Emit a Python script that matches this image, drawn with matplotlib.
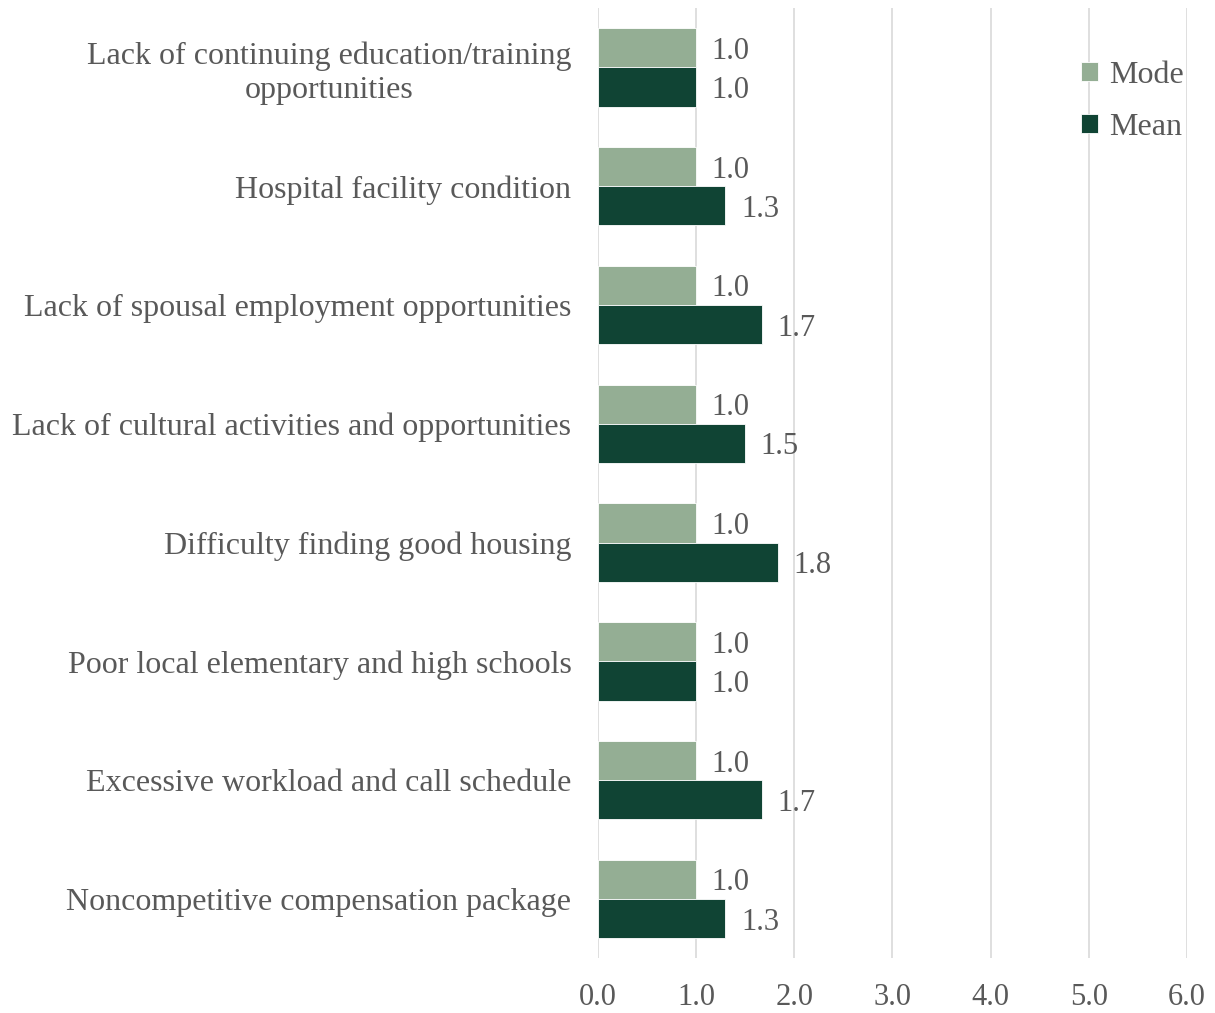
import matplotlib.pyplot as plt
import numpy as np

categories = [
    "Lack of continuing education/training\nopportunities",
    "Hospital facility condition",
    "Lack of spousal employment opportunities",
    "Lack of cultural activities and opportunities",
    "Difficulty finding good housing",
    "Poor local elementary and high schools",
    "Excessive workload and call schedule",
    "Noncompetitive compensation package",
]
mode_vals = [1.0, 1.0, 1.0, 1.0, 1.0, 1.0, 1.0, 1.0]
mean_vals = [1.0, 1.3, 1.67, 1.5, 1.83, 1.0, 1.67, 1.3]

mode_color = "#94AE94"
mean_color = "#104434"
text_color = "#595959"

plt.rcParams["font.family"] = ["Liberation Serif", "DejaVu Serif"]

fig = plt.figure(figsize=(12.15, 10.13), dpi=100)
ax = fig.add_axes([0.492, 0.054, 0.485, 0.938])

y = np.arange(len(categories))
h = 0.33
ax.barh(y - h / 2, mode_vals, height=h, color=mode_color, edgecolor="white",
        linewidth=0.6, label="Mode", zorder=3)
ax.barh(y + h / 2, mean_vals, height=h, color=mean_color, edgecolor="white",
        linewidth=0.6, label="Mean", zorder=3)

fs = 22
for yi, v in zip(y, mode_vals):
    ax.text(v + 0.16, yi - h / 2, f"{v:.1f}", va="center_baseline", ha="left",
            fontsize=fs, color=text_color)
for yi, v in zip(y, mean_vals):
    ax.text(v + 0.16, yi + h / 2, f"{v:.1f}", va="center_baseline", ha="left",
            fontsize=fs, color=text_color)

ax.set_xlim(0, 6)
ax.set_ylim(len(categories) - 0.5, -0.5)
ax.set_xticks(np.arange(0, 7, 1))
ax.set_xticklabels([f"{t:.1f}" for t in np.arange(0, 7, 1)])
ax.set_yticks(y)
ax.set_yticklabels(categories, multialignment="center")
ax.tick_params(axis="both", length=0, labelsize=fs, labelcolor=text_color)
ax.tick_params(axis="y", pad=19, labelsize=23)
ax.tick_params(axis="x", pad=18)

ax.grid(axis="x", color="#D9D9D9", linewidth=1.2, zorder=0)
for s in ax.spines.values():
    s.set_visible(False)

leg = ax.legend(loc="upper right", bbox_to_anchor=(1.033, 0.968), frameon=False,
                fontsize=23, handlelength=0.55, handleheight=0.55,
                handletextpad=0.35, labelspacing=0.72, borderpad=0.2)
for t in leg.get_texts():
    t.set_color(text_color)

plt.savefig("out.png", dpi=100)
